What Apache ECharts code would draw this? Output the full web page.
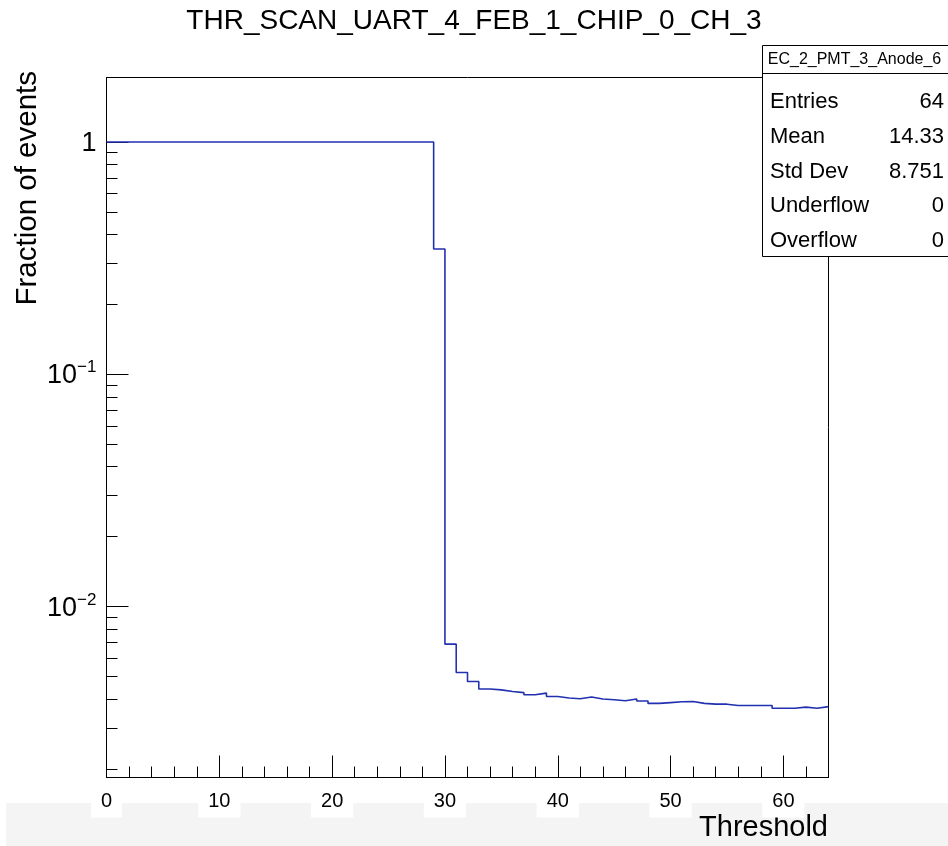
<!DOCTYPE html>
<html>
<head>
<meta charset="utf-8">
<script src="https://cdn.jsdelivr.net/npm/echarts@6/dist/echarts.min.js"></script>
<style>
  html, body { margin: 0; padding: 0; background: #fff; }
  #chart { width: 948px; height: 846px; }
</style>
</head>
<body>
<div id="chart"></div>
<script>
// Threshold scan of one channel: fraction of events above each threshold (log y)
const binEdges = [0,1,2,3,4,5,6,7,8,9,10,11,12,13,14,15,16,17,18,19,20,21,22,23,24,25,26,27,28,29,30,31,
                  32,33,34,35,36,37,38,39,40,41,42,43,44,45,46,47,48,49,50,51,52,53,54,55,56,57,58,59,60,61,62,63];
const binWidth = 1;
const fraction = [
  1,1,1,1,1,1,1,1,1,1,1,1,1,1,1,1,1,1,1,1,1,1,1,1,1,1,1,1,1,
  0.3463, 0.00689, 0.00520, 0.00476, 0.00442, 0.00438, 0.00431, 0.00426, 0.00417,
  0.00424, 0.00410, 0.00404, 0.00401, 0.00408, 0.00400, 0.00397, 0.00393, 0.00400,
  0.00392, 0.00383, 0.00386, 0.00389, 0.00390, 0.00383, 0.00380, 0.00380, 0.00375,
  0.00375, 0.00375, 0.00375, 0.00365, 0.00365, 0.00369, 0.00365, 0.00371
];

const xMin = 0, xMax = 64;
const yMin = 0.001837, yMax = 1.895;
const xTickValues = [0, 10, 20, 30, 40, 50, 60];
const xMinorTicks = [2,4,6,8,12,14,16,18,22,24,26,28,32,34,36,38,42,44,46,48,52,54,56,58,62];
const yTickValues = [0.01, 0.1, 1];
const yTickBase = ['10', '10', '1'];
const yTickExp = ['\u22122', '\u22121', ''];
const yMinorMult = [2, 3, 4, 5, 6, 7, 8, 9];
const yMinorDecades = [0.001, 0.01, 0.1];

const titleText = 'THR_SCAN_UART_4_FEB_1_CHIP_0_CH_3';
const xTitle = 'Threshold';
const yTitle = 'Fraction of events';
const statsTitle = 'EC_2_PMT_3_Anode_6';
const statsNames = ['Entries', 'Mean', 'Std Dev', 'Underflow', 'Overflow'];
const statsValues = ['64', '14.33', '8.751', '0', '0'];

const FONT = '"Liberation Sans", Arial, Helvetica, sans-serif';

// histogram outline: one point per bin low edge, closed at the last upper edge
const histData = binEdges.map((x, i) => [x, fraction[i]]);
histData.push([binEdges[binEdges.length - 1] + binWidth, fraction[fraction.length - 1]]);

const yMinorValues = [];
yMinorDecades.forEach(d => yMinorMult.forEach(m => {
  const v = +(d * m).toPrecision(6);
  if (v >= yMin && v <= yMax) yMinorValues.push(v);
}));

function yLabel(value) {
  let idx = -1;
  yTickValues.forEach((t, i) => { if (Math.abs(Math.log10(t) - Math.log10(value)) < 1e-6) idx = i; });
  if (idx < 0) return '';
  return yTickExp[idx] ? '{b|' + yTickBase[idx] + '}{e|' + yTickExp[idx] + '}' : '{b|' + yTickBase[idx] + '}';
}

const grid = { left: 106.5, right: 119.5, top: 77.5, bottom: 68.5 };
const statsBox = { x: 762.5, y: 45.5, w: 186, h: 211, header: 28 };
const rowY = [102, 136.8, 171.6, 206.4, 241.2];

const graphic = [
  // light band along the bottom edge
  { type: 'rect', z: -10, silent: true, shape: { x: 6, y: 803, width: 942, height: 43 },
    style: { fill: '#f4f4f4' } },
  // y-axis title
  { type: 'text', x: 28, y: 71, rotation: Math.PI / 2,
    style: { text: yTitle, font: '29.5px ' + FONT, fill: '#000', align: 'right', verticalAlign: 'middle' } },
  // x-axis title
  { type: 'text', x: 828, y: 828,
    style: { text: xTitle, font: '29px ' + FONT, fill: '#000', align: 'right', verticalAlign: 'middle' } },
  // statistics box
  { type: 'group', z: 100, children: [
    { type: 'rect', shape: { x: statsBox.x, y: statsBox.y, width: statsBox.w, height: statsBox.h },
      style: { fill: '#fff', stroke: '#000', lineWidth: 1 } },
    { type: 'line', shape: { x1: statsBox.x, y1: statsBox.y + statsBox.header, x2: statsBox.x + statsBox.w, y2: statsBox.y + statsBox.header },
      style: { stroke: '#000', lineWidth: 1 } },
    { type: 'text', x: statsBox.x + 92, y: statsBox.y + statsBox.header / 2,
      style: { text: statsTitle, font: '16px ' + FONT, fill: '#000', align: 'center', verticalAlign: 'middle' } }
  ].concat(statsNames.map((n, i) => ({
    type: 'text', x: 770, y: rowY[i],
    style: { text: n, font: '22px ' + FONT, fill: '#000', align: 'left', verticalAlign: 'middle' }
  }))).concat(statsValues.map((v, i) => ({
    type: 'text', x: 944, y: rowY[i],
    style: { text: v, font: '22px ' + FONT, fill: '#000', align: 'right', verticalAlign: 'middle' }
  }))) }
];

const chart = echarts.init(document.getElementById('chart'), null, { renderer: 'canvas' });
chart.setOption({
  animation: false,
  backgroundColor: '#fff',
  title: {
    text: titleText, left: 'center', top: 2,
    textStyle: { fontFamily: FONT, fontSize: 28, fontWeight: 'normal', color: '#000' }
  },
  grid: Object.assign({ show: true, borderColor: '#000', borderWidth: 1, backgroundColor: '#fff', containLabel: false }, grid),
  xAxis: [
    {
      type: 'value', min: xMin, max: xMax, position: 'bottom',
      axisLine: { show: true, onZero: false, lineStyle: { color: '#000', width: 1 } },
      axisTick: { show: true, inside: true, length: 22, lineStyle: { color: '#000', width: 1 }, customValues: xTickValues },
      axisLabel: { show: true, margin: 14, fontFamily: FONT, fontSize: 20, color: '#000',
                   backgroundColor: '#fff', padding: [0, 10, 6, 10], customValues: xTickValues,
                   showMinLabel: true, showMaxLabel: true, hideOverlap: false },
      splitLine: { show: false }
    },
    {
      type: 'value', min: xMin, max: xMax, position: 'bottom',
      axisLine: { show: false },
      axisTick: { show: true, inside: true, length: 11, lineStyle: { color: '#000', width: 1 }, customValues: xMinorTicks },
      axisLabel: { show: false },
      splitLine: { show: false }
    }
  ],
  yAxis: [
    {
      type: 'log', logBase: 10, min: yMin, max: yMax, position: 'left',
      axisLine: { show: true, lineStyle: { color: '#000', width: 1 } },
      axisTick: { show: true, inside: true, length: 22, lineStyle: { color: '#000', width: 1 }, customValues: yTickValues },
      axisLabel: {
        show: true, margin: 10, customValues: yTickValues, formatter: yLabel,
        showMinLabel: true, showMaxLabel: true,
        rich: {
          b: { fontFamily: FONT, fontSize: 27, color: '#000', lineHeight: 30, verticalAlign: 'bottom' },
          e: { fontFamily: FONT, fontSize: 17, color: '#000', lineHeight: 30, verticalAlign: 'top' }
        }
      },
      splitLine: { show: false }
    },
    {
      type: 'log', logBase: 10, min: yMin, max: yMax, position: 'left',
      axisLine: { show: false },
      axisTick: { show: true, inside: true, length: 11, lineStyle: { color: '#000', width: 1 }, customValues: yMinorValues },
      axisLabel: { show: false },
      splitLine: { show: false }
    }
  ],
  series: [{
    type: 'line', xAxisIndex: 0, yAxisIndex: 0, step: 'end',
    data: histData, symbol: 'none', showSymbol: false,
    lineStyle: { color: '#2231b0', width: 1.6 },
    z: 3
  }],
  graphic: graphic
});
</script>
</body>
</html>
